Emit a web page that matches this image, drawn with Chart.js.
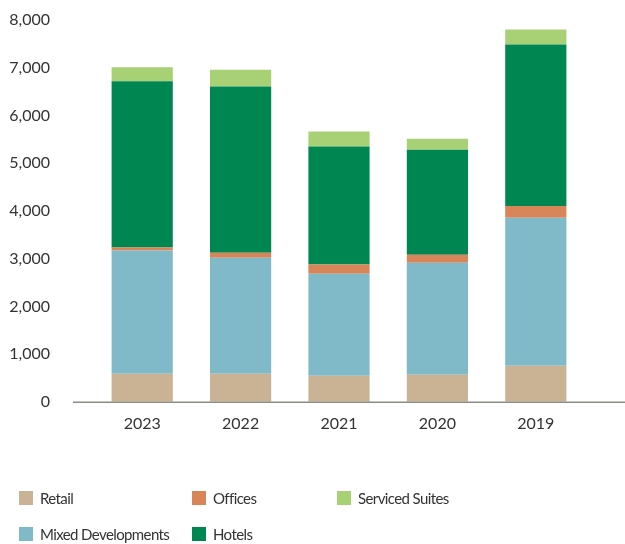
<!DOCTYPE html>
<html>
<head>
<meta charset="utf-8">
<script src="https://cdn.jsdelivr.net/npm/chart.js@4"></script>
<style>
  body { margin: 0; background: #fff; font-family: Lato, "Open Sans", sans-serif; }
  #wrap { position: relative; width: 625px; height: 544px; }
  #chart { position: absolute; left: 0; top: 0; }
  #legend { position: absolute; left: 0; top: 0; width: 625px; height: 544px; pointer-events: none; }
  .item { position: absolute; display: flex; align-items: center; font-size: 15px; letter-spacing: -0.6px; color: #333; }
  .item span.box { width: 14px; height: 14px; margin-right: 7px; display: inline-block; }
</style>
</head>
<body>
<div id="wrap">
  <canvas id="chart" width="625" height="452"></canvas>
  <div id="legend"></div>
</div>
<script>
var years = ['2023', '2022', '2021', '2020', '2019']
var retail = [590, 590, 545, 565, 755]
var mixedDev = [2580, 2430, 2140, 2350, 3100]
var offices = [65, 105, 190, 165, 250]
var hotels = [3480, 3480, 2475, 2200, 3380]
var servicedSuites = [295, 355, 315, 230, 315]

var names = ['Retail', 'Mixed Developments', 'Offices', 'Hotels', 'Serviced Suites']
var colours = ['#c9b394', '#80b9c8', '#d9855a', '#008751', '#a8d075']
var series = [retail, mixedDev, offices, hotels, servicedSuites]

// long baseline under the bars, runs past the categories to the right edge
var baseLine = {
  id: 'baseLine',
  afterDatasetsDraw: function(chart) {
    var c = chart.ctx, y = chart.chartArea.bottom + 0.5
    c.save()
    c.strokeStyle = '#8c8c84'
    c.lineWidth = 1.5
    c.beginPath()
    c.moveTo(73, y)
    c.lineTo(chart.width, y)
    c.stroke()
    c.restore()
  }
}

var sets = []
for (var i = 0; i < series.length; i++) {
  sets.push({
    label: names[i],
    data: series[i],
    backgroundColor: colours[i],
    borderWidth: 0,
    categoryPercentage: 1,
    barPercentage: 0.622
  })
}

var myChart = new Chart(document.getElementById('chart'), {
  type: 'bar',
  data: { labels: years, datasets: sets },
  options: {
    responsive: false,
    animation: false,
    layout: { padding: { top: 20, left: 8, right: 40, bottom: 7 } },
    plugins: { legend: { display: false }, tooltip: { enabled: false } },
    scales: {
      x: {
        stacked: true,
        grid: { display: false, drawTicks: false },
        border: { display: false },
        ticks: { color: '#333', padding: 12, font: { family: 'Lato', size: 16 } },
        // tick padding would otherwise widen the side margins too
        afterFit: function(s) { s.paddingLeft = 0; s.paddingRight = 0 }
      },
      y: {
        stacked: true,
        min: 0,
        max: 8000,
        grid: { display: false, drawTicks: false },
        border: { display: false },
        ticks: {
          stepSize: 1000,
          color: '#333',
          padding: 43,
          font: { family: 'Lato', size: 16 },
          callback: function(v) { return v.toLocaleString('en-US') }
        },
        // fixed axis width: labels end at x=50, bars area starts at 93
        afterFit: function(s) { s.width = 85; s.paddingTop = 0; s.paddingBottom = 0 }
      }
    }
  },
  plugins: [baseLine]
})

// legend laid out in columns: Retail/Mixed, Offices/Hotels, Serviced Suites
var spots = [[19, 491], [19, 527], [192, 491], [192, 527], [337, 491]]
var leg = document.getElementById('legend')
myChart.data.datasets.forEach(function(ds, i) {
  var d = document.createElement('div')
  d.className = 'item'
  d.style.left = spots[i][0] + 'px'
  d.style.top = (spots[i][1] - 2) + 'px'
  d.innerHTML = '<span class="box" style="background:' + ds.backgroundColor + '"></span>' + ds.label
  leg.appendChild(d)
})
</script>
</body>
</html>
